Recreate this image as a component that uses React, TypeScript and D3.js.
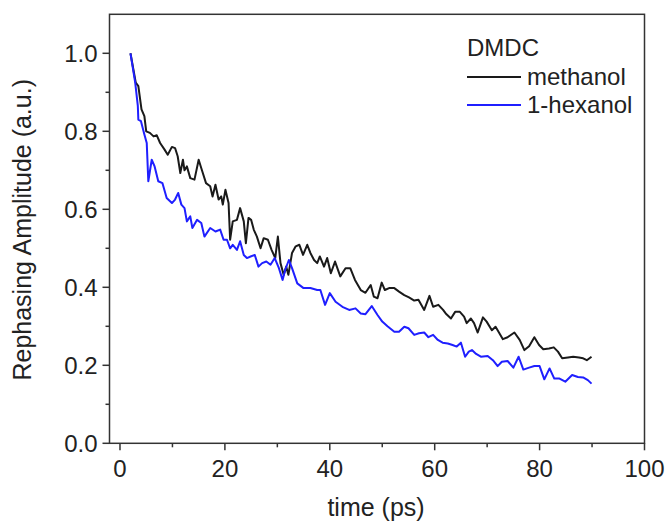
import React from "react";
import * as d3 from "d3";

const methanol: [number, number][] = [
  [2,1.0],[3,0.925],[3.5,0.916],[4.1,0.856],[4.65,0.839],[5,0.80],[5.7,0.796],[6.4,0.787],[7,0.79],[7.65,0.77],[8.5,0.753],[9.1,0.74],[9.9,0.76],[10.5,0.757],[11,0.736],[11.5,0.693],[12,0.727],[12.3,0.70],[12.75,0.71],[13.4,0.68],[14.2,0.676],[15,0.727],[15.7,0.697],[16.4,0.667],[17.2,0.659],[17.65,0.633],[18.2,0.663],[18.8,0.625],[19.3,0.633],[19.6,0.612],[20.1,0.65],[20.7,0.616],[21,0.522],[21.5,0.569],[22.3,0.573],[22.9,0.603],[23.6,0.569],[24,0.513],[24.5,0.578],[25,0.573],[25.5,0.548],[26.1,0.53],[26.8,0.50],[27.4,0.526],[28.2,0.522],[28.9,0.496],[29.6,0.475],[30.1,0.53],[30.6,0.462],[31.2,0.432],[31.7,0.453],[32.1,0.432],[32.8,0.488],[33.5,0.505],[34.2,0.509],[34.9,0.483],[35.7,0.509],[36.3,0.488],[37,0.47],[37.6,0.462],[38.1,0.479],[38.9,0.453],[39.5,0.475],[40.2,0.436],[41,0.466],[42,0.428],[43,0.449],[43.9,0.449],[44.8,0.419],[45.9,0.393],[46.8,0.386],[47.8,0.406],[48.4,0.376],[49.1,0.372],[49.9,0.412],[50.5,0.393],[51.3,0.398],[52.3,0.398],[53.2,0.389],[54.2,0.38],[55.1,0.374],[56.1,0.366],[56.9,0.368],[58,0.342],[59,0.378],[59.7,0.35],[60.7,0.355],[61.6,0.342],[62.1,0.333],[63.1,0.32],[63.9,0.337],[64.8,0.337],[65.6,0.325],[66.1,0.308],[66.9,0.32],[67.5,0.308],[68.2,0.284],[69.2,0.323],[69.9,0.312],[70.9,0.29],[71.6,0.299],[72,0.29],[73,0.267],[73.9,0.272],[75.2,0.284],[76.2,0.265],[77.1,0.239],[78,0.249],[79,0.272],[79.9,0.252],[80.7,0.241],[81.8,0.243],[82.7,0.246],[83.5,0.235],[84.3,0.218],[85.4,0.22],[86.4,0.222],[87.5,0.22],[88.3,0.218],[89,0.213],[89.9,0.222]
];

const hexanol: [number, number][] = [
  [2,1.0],[2.9,0.925],[3.4,0.865],[3.5,0.83],[4,0.826],[4.65,0.792],[5.1,0.77],[5.4,0.672],[6.05,0.727],[6.6,0.71],[7.3,0.672],[8.1,0.667],[8.9,0.629],[9.9,0.616],[10.5,0.625],[11.1,0.642],[11.7,0.612],[12.3,0.603],[12.75,0.569],[13.4,0.582],[13.8,0.552],[14.7,0.573],[15.5,0.565],[16.1,0.53],[17.2,0.552],[18.2,0.543],[19.1,0.548],[19.75,0.522],[20.4,0.522],[21,0.50],[21.5,0.509],[22.3,0.496],[22.9,0.518],[23.6,0.483],[24.2,0.475],[24.9,0.479],[25.7,0.483],[26.4,0.453],[27.1,0.462],[27.9,0.466],[28.7,0.458],[29.5,0.475],[30.3,0.449],[31,0.419],[31.5,0.445],[32.2,0.47],[32.8,0.449],[33.8,0.41],[35,0.398],[36.3,0.398],[37.6,0.393],[38.2,0.393],[39.1,0.355],[40,0.385],[41.1,0.363],[42.4,0.35],[43.7,0.342],[44.9,0.346],[45.9,0.333],[46.8,0.331],[48,0.352],[49.1,0.329],[50,0.312],[51,0.30],[52.3,0.286],[53.2,0.286],[54.2,0.299],[55,0.295],[56.1,0.278],[57,0.282],[58,0.284],[58.8,0.272],[59.7,0.278],[60.6,0.265],[61.5,0.258],[62.5,0.256],[63.4,0.252],[64.2,0.248],[65,0.258],[65.8,0.222],[66.5,0.235],[67.1,0.239],[67.9,0.229],[68.8,0.222],[70.1,0.224],[71.1,0.213],[72,0.198],[72.8,0.209],[73.9,0.211],[75,0.194],[76,0.222],[76.9,0.189],[78,0.194],[79,0.198],[80,0.198],[80.9,0.164],[81.9,0.192],[82.8,0.166],[83.8,0.166],[84.9,0.158],[86.2,0.175],[87.3,0.17],[88.3,0.169],[89.2,0.162],[89.9,0.153]
];

const xMajorTicks = [0, 20, 40, 60, 80, 100];
const xMinorTicks = [10, 30, 50, 70, 90];
const yMajorTicks = [0, 0.2, 0.4, 0.6, 0.8, 1.0];
const yMinorTicks = [0.1, 0.3, 0.5, 0.7, 0.9];
const legendTitle = "DMDC";
const seriesNames = ["methanol", "1-hexanol"];
const seriesColors = ["#1a1a1a", "#1f1fff"];

const W = 665, H = 523;
const L = 109.5, R = 644.5, T = 14.3, B = 443.3;
const FONT = "'Liberation Sans', Arial, Helvetica, sans-serif";
const AX = "#333";
const TXT = "#222";

export default function App() {
  const x = d3.scaleLinear().domain([-2, 100]).range([L, R]);
  const y = d3.scaleLinear().domain([0, 1.1]).range([B, T]);
  const line = d3.line<[number, number]>().x(d => x(d[0])).y(d => y(d[1]));
  const series = [methanol, hexanol];

  return (
    <svg width={W} height={H} style={{ position: "absolute", left: 0, top: 0 }} fontFamily={FONT}>
      <rect x={0} y={0} width={W} height={H} fill="#fff" />
      {series.map((s, i) => (
        <path key={i} d={line(s) || ""} fill="none" stroke={seriesColors[i]} strokeWidth={2} strokeLinejoin="round" />
      ))}
      <rect x={L} y={T} width={R - L} height={B - T} fill="none" stroke={AX} strokeWidth={1.5} />
      {xMajorTicks.map(t => (
        <g key={"xm" + t}>
          <line x1={x(t)} x2={x(t)} y1={B} y2={B + 7} stroke={AX} strokeWidth={1.5} />
          <text x={x(t)} y={B + 34} textAnchor="middle" fontSize={24} fill={TXT}>{t}</text>
        </g>
      ))}
      {xMinorTicks.map(t => (
        <line key={"xn" + t} x1={x(t)} x2={x(t)} y1={B} y2={B + 4} stroke={AX} strokeWidth={1.5} />
      ))}
      {yMajorTicks.map(t => (
        <g key={"ym" + t}>
          <line x1={L} x2={L - 7} y1={y(t)} y2={y(t)} stroke={AX} strokeWidth={1.5} />
          <text x={L - 12} y={y(t) + 8.5} textAnchor="end" fontSize={24} fill={TXT}>{t.toFixed(1)}</text>
        </g>
      ))}
      {yMinorTicks.map(t => (
        <line key={"yn" + t} x1={L} x2={L - 4} y1={y(t)} y2={y(t)} stroke={AX} strokeWidth={1.5} />
      ))}
      <text x={(L + R) / 2 - 1} y={516} textAnchor="middle" fontSize={25} fill={TXT}>time (ps)</text>
      <text transform={`translate(31, ${(T + B) / 2 + 1}) rotate(-90)`} textAnchor="middle" fontSize={25} fill={TXT}>Rephasing Amplitude (a.u.)</text>
      <text x={467} y={56} fontSize={24} fill={TXT}>{legendTitle}</text>
      {seriesNames.map((n, i) => (
        <g key={n}>
          <line x1={467} x2={521} y1={77 + i * 28} y2={77 + i * 28} stroke={seriesColors[i]} strokeWidth={1.8} />
          <text x={527} y={85 + i * 28} fontSize={24} fill={TXT}>{n}</text>
        </g>
      ))}
    </svg>
  );
}
